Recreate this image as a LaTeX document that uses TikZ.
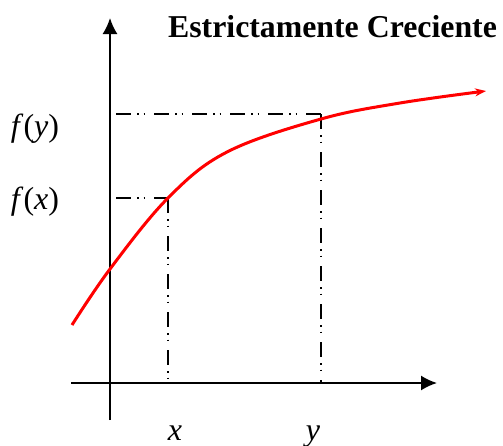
\documentclass[tikz,border=0pt]{standalone}
\usepackage{fontspec}
\setmainfont{Liberation Serif}
\usetikzlibrary{arrows.meta}

\tikzset{
  eje/.style={line width=1.8pt, -{Latex[length=16pt,width=15pt]}},
  guia/.style={line width=1.4pt, dash pattern=on 15pt off 6pt on 1.5pt off 5pt on 1.5pt off 9pt},
  etiqueta/.style={font=\fontsize{32}{38}\selectfont, anchor=base, inner sep=0pt},
}

\begin{document}
\begin{tikzpicture}[x=1pt,y=-1pt]
\useasboundingbox (0,0) rectangle (503,445);

% Ejes coordenados
\coordinate (ejeYini) at (110,420);
\coordinate (ejeYfin) at (110,18);
\coordinate (ejeXini) at (71,383);
\coordinate (ejeXfin) at (437,383);
\draw[eje] (ejeYini) -- (ejeYfin);
\draw[eje] (ejeXini) -- (ejeXfin);

% Puntos de referencia
\coordinate (fxIzq) at (116,198);
\coordinate (px) at (168,198);
\coordinate (xEje) at (168,383);
\coordinate (fyIzq) at (116,114);
\coordinate (py) at (321,114);
\coordinate (yEje) at (321,383);

% Lineas guia (raya y dos puntos)
\draw[guia] (fxIzq) -- (px);
\draw[guia] (px) -- (xEje);
\draw[guia] (fyIzq) -- (py);
\draw[guia] (py) -- (yEje);

% Funcion estrictamente creciente
\draw[red, line width=3pt, -{Stealth[length=11pt,width=8pt]}]
  plot[smooth, tension=0.6] coordinates {(72,325) (110,269) (168,198) (227,152) (321,119) (400,103) (486,91)};

% Etiquetas
\node[etiqueta] (lfy) at (35,136) {\textit{f}(\textit{y})};
\node[etiqueta] (lfx) at (35,209) {\textit{f}(\textit{x})};
\node[etiqueta] (lx) at (175,440) {\textit{x}};
\node[etiqueta] (ly) at (313,440) {\textit{y}};
\node[etiqueta, font=\fontsize{31.8}{38}\selectfont\bfseries] (titulo) at (332.5,37) {Estrictamente Creciente};
\end{tikzpicture}
\end{document}
